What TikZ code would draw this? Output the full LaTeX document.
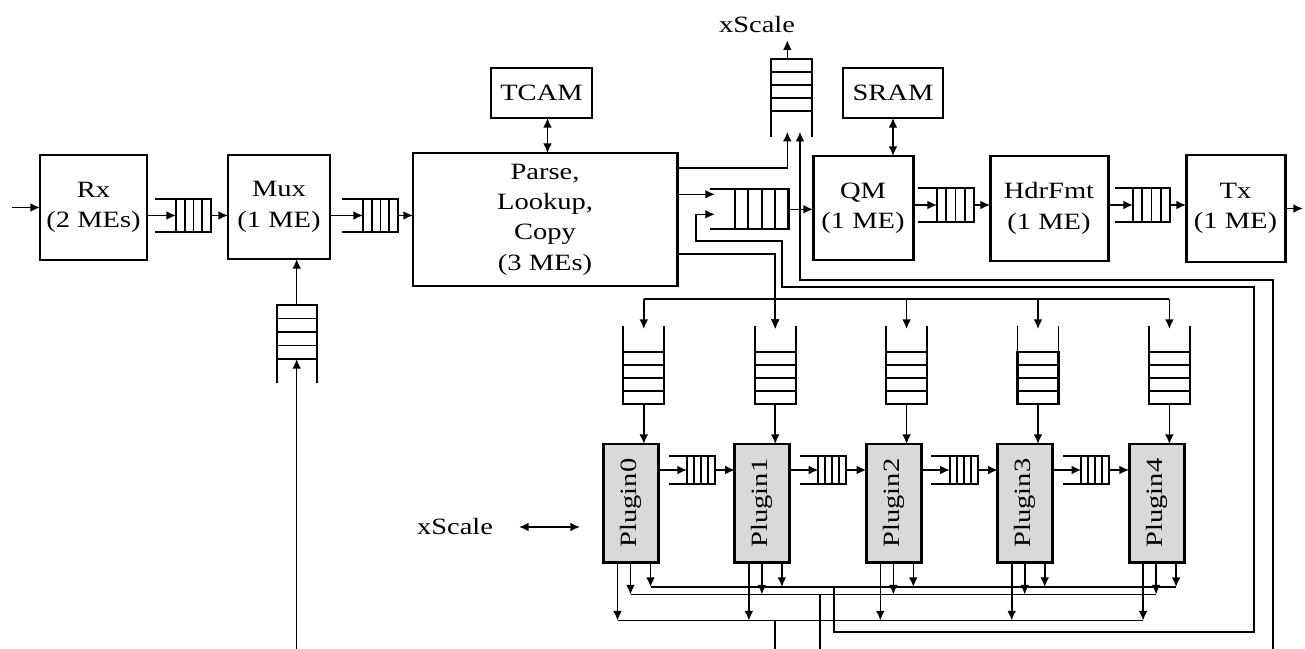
\documentclass[tikz,border=0pt]{standalone}
\usepackage{fontspec}
\setmainfont{Liberation Serif}[FakeStretch=1.22]
\usepackage{graphicx}
\usetikzlibrary{arrows.meta,calc}
\def\pxu{0.02cm}
\tikzset{
  blk/.style={draw, line width=1.7pt, align=center, inner sep=0pt, outer sep=0pt},
  mem/.style={draw, line width=0.9pt, align=center, inner sep=0pt, outer sep=0pt},
  plug/.style={blk, fill=black!15},
  qbox/.style={draw, line width=1.2pt, inner sep=0pt, outer sep=0pt},
  qline/.style={line width=1.1pt},
  hcells/.style={path picture={\foreach \f in {0.25,0.5,0.75}{\draw[qline] ($(path picture bounding box.south west)!\f!(path picture bounding box.south east)$) -- ($(path picture bounding box.north west)!\f!(path picture bounding box.north east)$);}}},
  vcells/.style={path picture={\foreach \f in {0.25,0.5,0.75}{\draw[qline] ($(path picture bounding box.south west)!\f!(path picture bounding box.north west)$) -- ($(path picture bounding box.south east)!\f!(path picture bounding box.north east)$);}}},
  arr/.style={line width=0.9pt, -{Latex[length=5.5pt,width=5pt]}},
  darr/.style={line width=0.9pt, {Latex[length=5.5pt,width=5pt]}-{Latex[length=5.5pt,width=5pt]}},
  wire/.style={line width=0.9pt},
  lbl/.style={inner sep=0pt},
}
% box: name, cx, cy, w, h, text, style
\newcommand\bx[7]{\node[#7, minimum width=#4*\pxu, minimum height=#5*\pxu] (#1) at (#2,#3) {#6};}
% horizontal queue: name, cx, cy, w, h, rail
\newcommand\hq[6]{%
  \node[qbox, hcells, minimum width=#4*\pxu, minimum height=#5*\pxu] (#1) at (#2,#3) {};
  \draw[qline] (#1.north west) -- ++(-#6,0);
  \draw[qline] (#1.south west) -- ++(-#6,0);}
% vertical queue, open bottom
\newcommand\vqdown[6]{%
  \node[qbox, vcells, minimum width=#4*\pxu, minimum height=#5*\pxu] (#1) at (#2,#3) {};
  \draw[qline] (#1.south west) -- ++(0,#6);
  \draw[qline] (#1.south east) -- ++(0,#6);}
% vertical queue, open top
\newcommand\vqup[6]{%
  \node[qbox, vcells, minimum width=#4*\pxu, minimum height=#5*\pxu] (#1) at (#2,#3) {};
  \draw[qline] (#1.north west) -- ++(0,-#6);
  \draw[qline] (#1.north east) -- ++(0,-#6);}
\begin{document}
\begin{tikzpicture}[x=0.02cm, y=-0.02cm, font=\fontsize{13.3}{17.3}\selectfont]
\useasboundingbox (0,0) rectangle (1305,649);

% main pipeline
\bx{Rx}{93.5}{207.5}{107}{105}{Rx\\(2 MEs)}{blk}
\bx{Mux}{279}{207}{102}{104}{Mux\\(1 ME)}{blk}
\bx{Parse}{545}{219.5}{264}{133}{Parse,\\Lookup,\\Copy\\(3 MEs)}{blk}
\bx{TCAM}{541.5}{93}{101}{50}{TCAM}{mem}
\bx{QM}{863}{208}{100}{104}{QM\\(1 ME)}{blk}
\bx{SRAM}{893}{93}{100}{50}{SRAM}{mem}
\bx{Hdr}{1049}{208.5}{118}{105}{HdrFmt\\(1 ME)}{blk}
\bx{Tx}{1235.5}{208.5}{99}{107}{Tx\\(1 ME)}{blk}

\hq{q1}{193.5}{215.5}{35}{33}{21}
\hq{q2}{380.5}{215.5}{35}{33}{21}
\hq{qm}{761.75}{209.3}{53.5}{40}{25}
\hq{q3}{955.5}{205}{37}{34}{19}
\hq{q4}{1151.5}{205}{37}{34}{18}
\vqdown{xq}{791.3}{85}{40.7}{51.4}{26.6}
\vqdown{mq}{296.7}{332}{40}{54}{24.3}

\coordinate (inL) at (12,207.5);
\draw[arr] (inL) -- (Rx.west);
\draw[arr] (Rx.east |- q1.west) -- (q1.west);
\draw[arr] (q1.east) -- (q1.east -| Mux.west);
\draw[arr] (Mux.east |- q2.west) -- (q2.west);
\draw[arr] (q2.east) -- (q2.east -| Parse.west);
\draw[darr] ($(TCAM.south)+(6,0)$) -- ($(TCAM.south |- Parse.north)+(6,0)$);
\draw[darr] (SRAM.south) -- (SRAM.south |- QM.north);
\draw[arr] (qm.east) -- (qm.east -| QM.west);
\draw[arr] (QM.east |- q3.west) -- (q3.west);
\draw[arr] (q3.east) -- (q3.east -| Hdr.west);
\draw[arr] (Hdr.east |- q4.west) -- (q4.west);
\draw[arr] (q4.east) -- (q4.east -| Tx.west);
\draw[arr] (Tx.east) -- ++(18,0);

% queue into QM
\coordinate (qmIn1) at ($(qm.west)+(-20,-15)$);
\coordinate (qmIn2) at ($(qm.west)+(-20,5)$);
\draw[arr] (Parse.east |- qmIn1) -- (qmIn1);

% xScale queue (top)
\coordinate (xqL) at ($(xq.south)+(-4,21)$);
\coordinate (xqR) at ($(xq.south)+(8.7,21)$);
\node[lbl] (xs1) at (757,25) {xScale};
\draw[arr] (xq.north -| xqL) -- ++(0,-19);
\draw[arr] ($(Parse.north east)+(0,15)$) -| (xqL);
\coordinate (outR) at (1273,649);
\draw[arr] (outR) |- (800,280) -- (xqR);

% Mux side queue
\coordinate (inMq) at (296.7,649);
\draw[arr] (inMq) -- (mq.south);
\draw[arr] (mq.north) -- (mq.north |- Mux.south);

% plugins
\coordinate (busL) at (0,299);
\foreach \i in {0,...,4}{
  \pgfmathsetmacro\L{603.5+131.4*\i}
  \node[plug, minimum width=55*\pxu, minimum height=118*\pxu] (P\i) at (\L+27.5,503) {\rotatebox{90}{Plugin\i}};
  \vqup{pq\i}{\L+40.3}{378}{41}{52}{26}
  \draw[arr] (pq\i.north |- busL) -- ($(pq\i.north)+(0,-23)$);
  \draw[arr] (pq\i.south) -- (pq\i.south |- P\i.north);
  \draw[arr] ($(P\i.south west)+(14,0)$) -- ++(0,58.5);
  \draw[arr] ($(P\i.south west)+(27,0)$) -- ++(0,32.5);
  \draw[arr] ($(P\i.south west)+(47,0)$) -- ++(0,25);
}
\foreach \i in {0,...,3}{
  \pgfmathsetmacro\L{603.5+131.4*\i}
  \pgfmathtruncatemacro\j{\i+1}
  \hq{ph\i}{\L+97.5}{470}{28}{28}{18.5}
  \draw[arr] (P\i.east |- ph\i.west) -- (ph\i.west);
  \draw[arr] (ph\i.east) -- (ph\i.east -| P\j.west);
}
\draw[wire] (pq0.north |- busL) -- (pq4.north |- busL);
\draw[arr] ($(Parse.south east)+(0,-32)$) -| ($(pq1.north)+(0,-23)$);

% buses below plugins
\draw[wire] ($(P0.south west)+(47,25)$) -- ($(P4.south west)+(47,25)$);
\draw[wire] ($(P0.south west)+(27,32.5)$) -- ($(P4.south west)+(27,32.5)$);
\draw[wire] ($(P0.south west)+(14,58.5)$) -- ($(P4.south west)+(14,58.5)$);

\coordinate (fbA) at (834,587);
\draw[arr] (fbA) -- (834,632) -| (1254,287) -| (782,241) -| (696,214.3) -- (qmIn2);
\coordinate (bA) at (775,620.5);
\coordinate (bB) at (820,594.5);
\draw[wire] (bA) -- (bA |- inMq);
\draw[wire] (bB) -- (bB |- inMq);

% xScale (plugins)
\node[lbl] (xs2) at (455,527) {xScale};
\coordinate (xsA) at (519,527);
\coordinate (xsB) at (580,527);
\draw[darr] (xsA) -- (xsB);
\end{tikzpicture}
\end{document}
